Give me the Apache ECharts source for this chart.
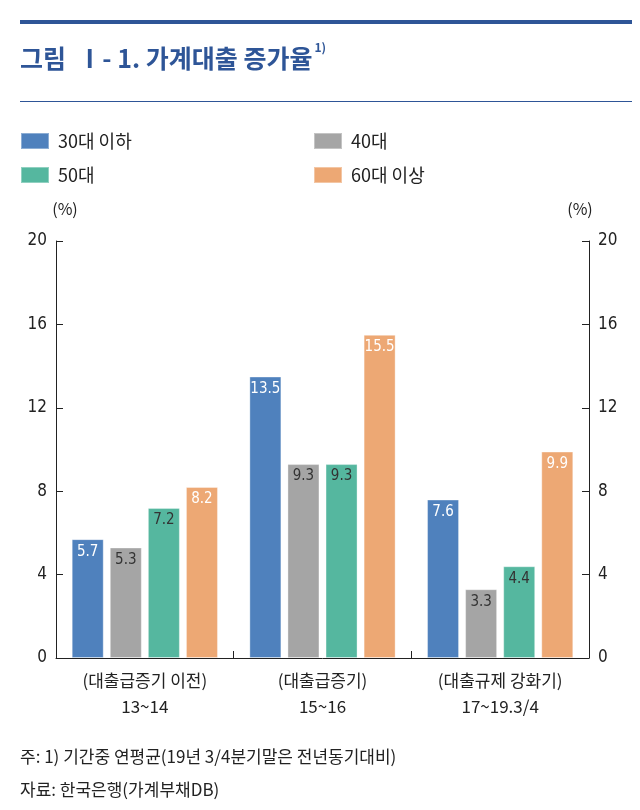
<!DOCTYPE html>
<html>
<head>
<meta charset="utf-8">
<script src="https://cdn.jsdelivr.net/npm/echarts@6/dist/echarts.min.js"></script>
<style>
  html, body { margin: 0; padding: 0; background: #fff; }
  #chart { width: 640px; height: 810px; }
</style>
</head>
<body>
<div id="chart"></div>
<script>
// 기간 구분
var categories = ['(대출급증기 이전)\n13~14', '(대출급증기)\n15~16', '(대출규제 강화기)\n17~19.3/4'];
var seriesNames = ['30대 이하', '40대', '50대', '60대 이상'];
var age30 = [5.7, 13.5, 7.6];
var age40 = [5.3, 9.3, 3.3];
var age50 = [7.2, 9.3, 4.4];
var age60 = [8.2, 15.5, 9.9];
var yTicks = { min: 0, max: 20, interval: 4 };

var colors = ['#4f81bd', '#a5a5a5', '#55b79f', '#eda874'];
var labelColors = ['#ffffff', '#333333', '#333333', '#ffffff'];
var fontKr = '"Noto Sans CJK KR", "Noto Sans", sans-serif';
var fontNum = '"DejaVu Sans Condensed", "Liberation Sans Narrow", "Noto Sans CJK KR", sans-serif';

var chart = echarts.init(document.getElementById('chart'));

function makeSeries(name, data, i) {
    return {
        name: name,
        type: 'bar',
        data: data,
        barWidth: 32,
        barGap: '19%',
        itemStyle: { color: colors[i], borderColor: 'rgba(255,255,255,0.35)', borderWidth: 1 },
        label: {
            show: true,
            position: 'insideTop',
            distance: 5,
            color: labelColors[i],
            fontFamily: fontNum,
            fontSize: 15,
            formatter: function (p) { return p.value.toFixed(1); }
        }
    };
}

function yAxis(pos) {
    return {
        type: 'value',
        position: pos,
        min: yTicks.min,
        max: yTicks.max,
        interval: yTicks.interval,
        name: '(%)',
        nameLocation: 'end',
        nameGap: 24,
        nameTextStyle: { color: '#222', fontSize: 16, fontFamily: fontKr, align: 'center', padding: pos === 'left' ? [0, 0, 0, 18] : [0, 0, 0, -18] },
        axisLine: { show: true, lineStyle: { color: '#222', width: 1 } },
        axisTick: { show: true, inside: true, length: 7, lineStyle: { color: '#222' } },
        axisLabel: { color: '#222', fontSize: 17, fontFamily: fontNum, margin: 9 },
        splitLine: { show: false }
    };
}

function legendBlock(names, left) {
    return {
        data: names,
        orient: 'vertical',
        left: left, top: 132,
        padding: 0,
        itemWidth: 28, itemHeight: 16, itemGap: 16,
        icon: 'rect',
        textStyle: { fontSize: 18, color: '#222', fontFamily: fontKr, padding: [0, 0, 0, 4] }
    };
}

var option = {
    backgroundColor: '#ffffff',
    animation: false,
    grid: { left: 56, right: 51, top: 241, bottom: 152 },
    legend: [
        legendBlock([seriesNames[0], seriesNames[2]], 20),
        legendBlock([seriesNames[1], seriesNames[3]], 313)
    ],
    xAxis: {
        type: 'category',
        data: categories,
        axisLine: { lineStyle: { color: '#222', width: 1 } },
        axisTick: { show: true, inside: true, length: 7, lineStyle: { color: '#222' } },
        axisLabel: { color: '#222', fontSize: 17, fontFamily: fontKr, lineHeight: 26, margin: 10 }
    },
    yAxis: [yAxis('left'), yAxis('right')],
    series: [
        makeSeries(seriesNames[0], age30, 0),
        makeSeries(seriesNames[1], age40, 1),
        makeSeries(seriesNames[2], age50, 2),
        makeSeries(seriesNames[3], age60, 3)
    ],
    graphic: [
        { type: 'rect', left: 20, top: 20, shape: { width: 612, height: 4 }, style: { fill: '#2e5597' } },
        {
            type: 'text', left: 20, top: 41,
            style: {
                text: '{t|그림  Ⅰ- 1. 가계대출 증가율}{s|1)}',
                rich: {
                    t: { fill: '#2e5597', fontSize: 25, fontWeight: 'bold', fontFamily: fontKr, lineHeight: 34 },
                    s: { fill: '#2e5597', fontSize: 12, fontWeight: 'bold', fontFamily: fontKr, verticalAlign: 'top', lineHeight: 34, padding: [0, 0, 14, 2] }
                }
            }
        },
        { type: 'rect', left: 20, top: 101, shape: { width: 612, height: 1 }, style: { fill: '#2e5597' } },
        {
            type: 'text', left: 20, top: 748,
            style: { text: '주: 1) 기간중 연평균(19년 3/4분기말은 전년동기대비)', fill: '#222', font: '17px ' + fontKr }
        },
        {
            type: 'text', left: 20, top: 781,
            style: { text: '자료: 한국은행(가계부채DB)', fill: '#222', font: '17px ' + fontKr }
        }
    ]
};

chart.setOption(option);
</script>
</body>
</html>
